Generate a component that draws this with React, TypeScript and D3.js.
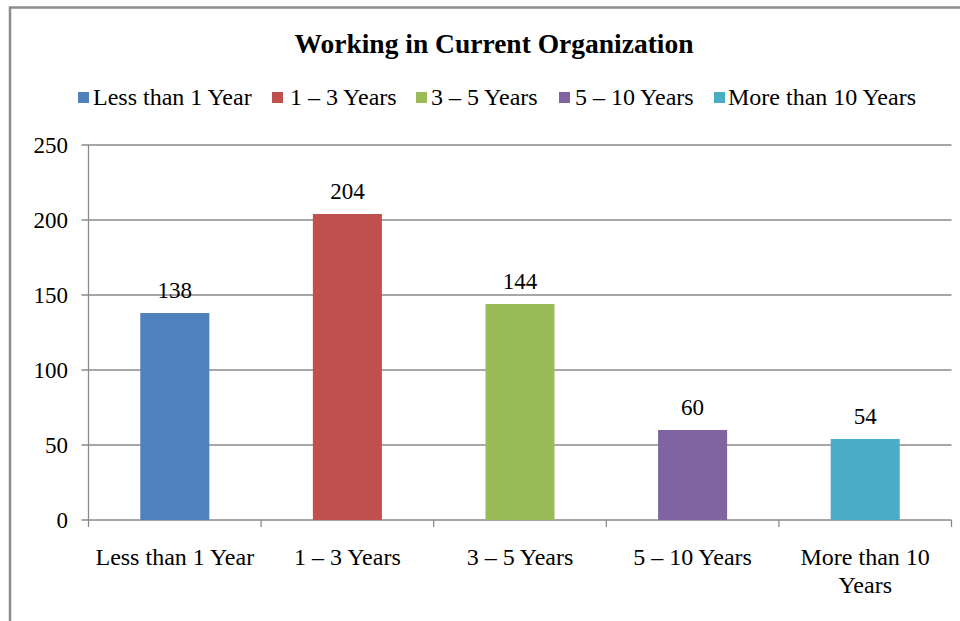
import React, { useEffect, useRef } from "react";
import * as d3 from "d3";

const categories = ["Less than 1 Year", "1 – 3 Years", "3 – 5 Years", "5 – 10 Years", "More than 10 Years"];
const categoryLines = [["Less than 1 Year"], ["1 – 3 Years"], ["3 – 5 Years"], ["5 – 10 Years"], ["More than 10", "Years"]];
const values = [138, 204, 144, 60, 54];
const colors = ["#4F81BD", "#C0504D", "#9BBB59", "#8064A2", "#4BACC6"];
const yTicks = [0, 50, 100, 150, 200, 250];
const title = "Working in Current Organization";

const W = 960, H = 621;
const FONT = "'Liberation Serif', 'Times New Roman', serif";

export default function App() {
  const ref = useRef<SVGSVGElement>(null);
  useEffect(() => {
    document.body.style.margin = "0";
    const svg = d3.select(ref.current);
    svg.selectAll("*").remove();

    const left = 88.5, right = 951.5, top = 145, bottom = 520;
    const x = d3.scaleBand<string>().domain(categories).range([left, right]).paddingInner(0).paddingOuter(0);
    const y = d3.scaleLinear().domain([0, 250]).range([bottom, top]);

    svg.append("rect").attr("width", W).attr("height", H).attr("fill", "#fff");
    // frame
    svg.append("rect").attr("x", 10).attr("y", 7.5).attr("width", 1000).attr("height", 700)
      .attr("fill", "none").attr("stroke", "#8c8c8c").attr("stroke-width", 2.5);

    svg.append("text").attr("x", 494).attr("y", 53).attr("text-anchor", "middle")
      .attr("font-family", FONT).attr("font-weight", "bold").attr("font-size", 27.5).attr("fill", "#000")
      .text(title);

    // legend
    const legendSq = [78, 272, 416, 559, 714];
    const legendTx = [93, 290, 431, 575, 728];
    const lg = svg.append("g");
    categories.forEach((c, i) => {
      lg.append("rect").attr("x", legendSq[i]).attr("y", 92).attr("width", 11).attr("height", 11).attr("fill", colors[i]);
      lg.append("text").attr("x", legendTx[i]).attr("y", 105).attr("font-family", FONT)
        .attr("font-size", 24).attr("fill", "#000").text(c);
    });

    // gridlines
    const g = svg.append("g");
    yTicks.forEach((t) => {
      g.append("line").attr("x1", left - 7).attr("x2", right).attr("y1", y(t)).attr("y2", y(t))
        .attr("stroke", "#8a8a8a").attr("stroke-width", 1.3);
      g.append("text").attr("x", 68).attr("y", y(t) + 8).attr("text-anchor", "end")
        .attr("font-family", FONT).attr("font-size", 23).attr("fill", "#000").text(t);
    });
    // y axis
    g.append("line").attr("x1", left).attr("x2", left).attr("y1", top).attr("y2", bottom)
      .attr("stroke", "#8a8a8a").attr("stroke-width", 1.3);
    // x ticks
    const bw = x.bandwidth();
    for (let i = 0; i <= categories.length; i++) {
      const xx = left + i * bw;
      g.append("line").attr("x1", xx).attr("x2", xx).attr("y1", bottom).attr("y2", bottom + 7)
        .attr("stroke", "#8a8a8a").attr("stroke-width", 1.3);
    }

    // bars
    const barW = bw * 0.4;
    categories.forEach((c, i) => {
      const cx = (x(c) as number) + bw / 2;
      g.append("rect").attr("x", cx - barW / 2).attr("y", y(values[i])).attr("width", barW)
        .attr("height", y(0) - y(values[i])).attr("fill", colors[i]);
      g.append("text").attr("x", cx).attr("y", y(values[i]) - 15).attr("text-anchor", "middle")
        .attr("font-family", FONT).attr("font-size", 23).attr("fill", "#000").text(values[i]);
      categoryLines[i].forEach((ln, j) => {
        g.append("text").attr("x", cx).attr("y", 565 + j * 28).attr("text-anchor", "middle")
          .attr("font-family", FONT).attr("font-size", 24).attr("fill", "#000").text(ln);
      });
    });
  }, []);
  return <svg ref={ref} width={W} height={H} style={{ display: "block" }} />;
}
